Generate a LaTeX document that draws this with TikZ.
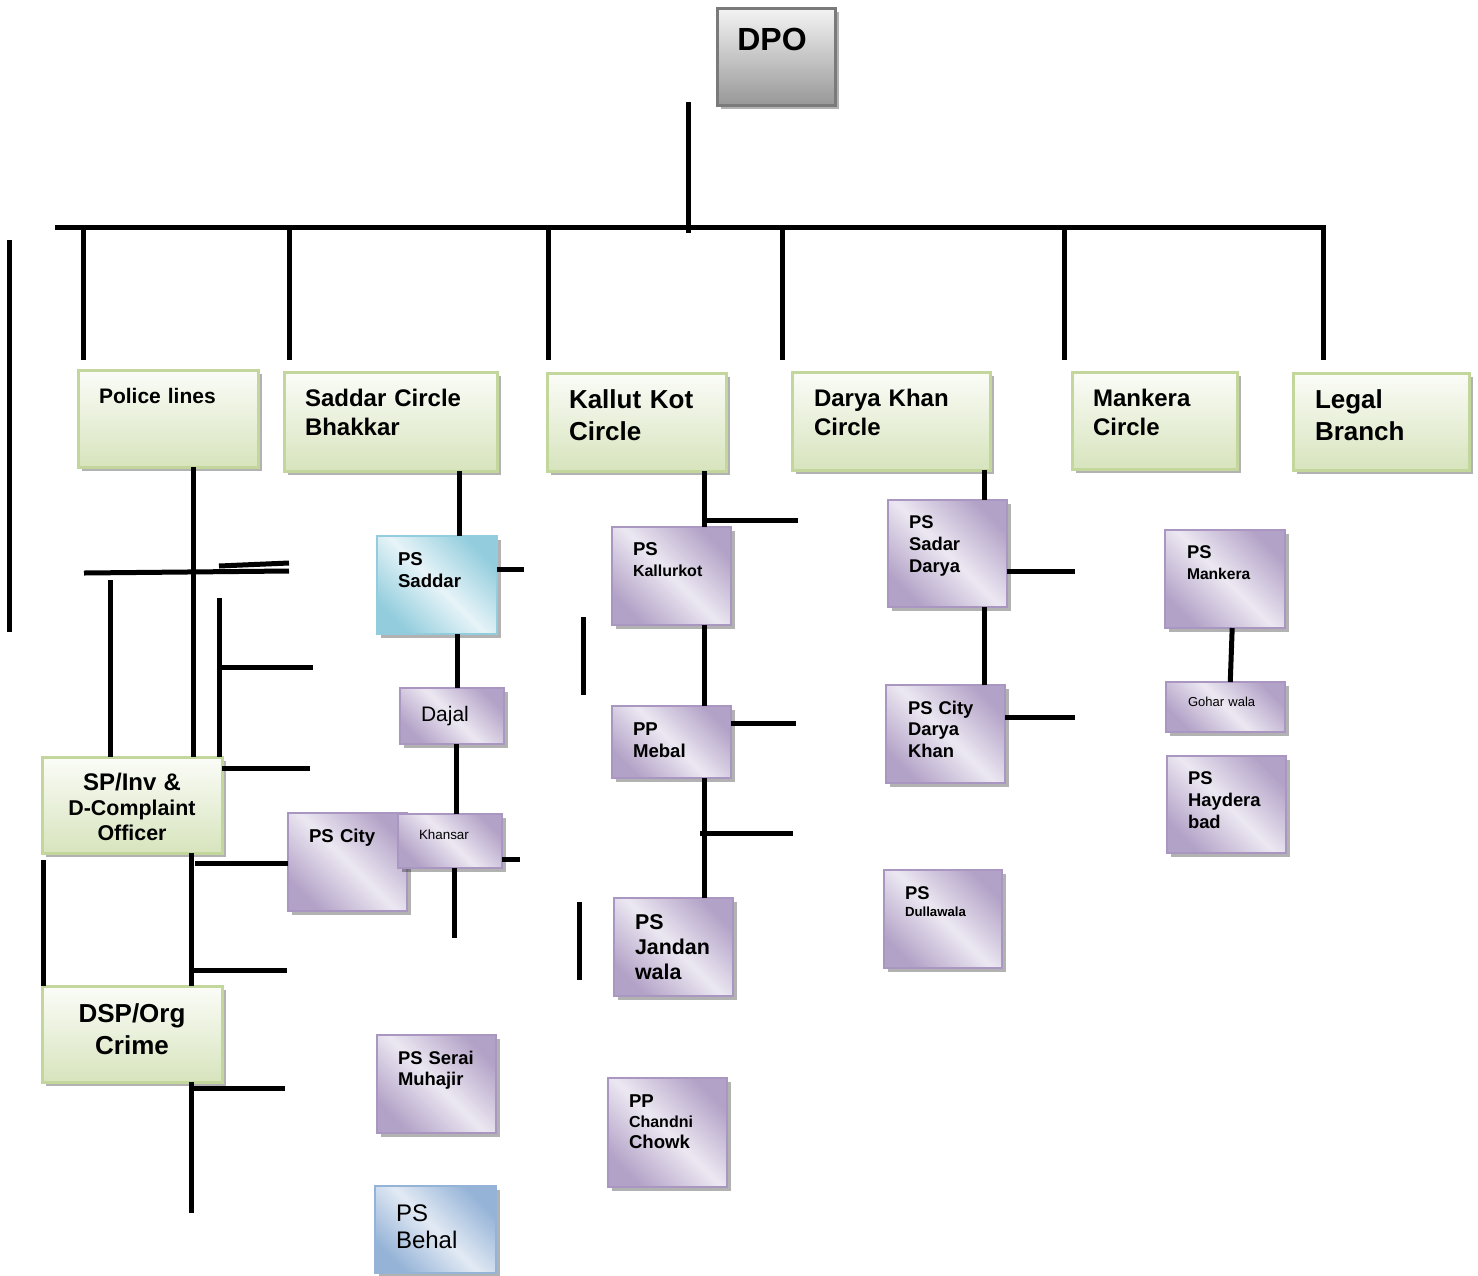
\documentclass[tikz,border=0pt]{standalone}
\usepackage{fontspec}
\setmainfont{Liberation Sans}
\usetikzlibrary{shadows,fit,calc}
\definecolor{gdark}{HTML}{D7E4BD}
\definecolor{glight}{HTML}{FBFCF8}
\definecolor{gborder}{HTML}{C3D69B}
\definecolor{pdark}{HTML}{B3A2C7}
\definecolor{plight}{HTML}{ECE8F2}
\definecolor{pborder}{HTML}{A997C2}
\definecolor{cdark}{HTML}{93CDDD}
\definecolor{clight}{HTML}{E7F4F8}
\definecolor{bdark}{HTML}{95B3D7}
\definecolor{blight}{HTML}{E2EAF4}
\definecolor{graytop}{HTML}{F4F4F4}
\definecolor{graybot}{HTML}{989898}
\definecolor{grayborder}{HTML}{7A7A7A}
\tikzset{
  boxbase/.style={inner sep=0pt, outer sep=0pt,
    drop shadow={shadow xshift=2pt, shadow yshift=-2pt, fill=black, opacity=0.3}},
  greenbox/.style={boxbase, draw=gborder, line width=1.5pt, top color=glight, bottom color=gdark},
  graybox/.style={boxbase, draw=grayborder, line width=1.5pt, top color=graytop, bottom color=graybot},
  purplebox/.style={boxbase, draw=pborder, line width=1.2pt, top color=pdark, bottom color=pdark, middle color=plight, shading angle=-45},
  cyanbox/.style={boxbase, draw=cdark, line width=1.2pt, top color=cdark, bottom color=cdark, middle color=clight, shading angle=-45},
  bluebox/.style={boxbase, draw=bdark, line width=1.2pt, top color=bdark, bottom color=bdark, middle color=blight, shading angle=-45},
  conn/.style={line width=2.5pt, black},
  lt/.style={inner sep=0pt, outer sep=0pt, anchor=base west, text width=110pt, align=left},
  ct/.style={inner sep=0pt, outer sep=0pt, anchor=base, text width=90pt, align=center},
}
\newcommand\fsz[2]{\fontsize{#1}{#2}\selectfont}
\begin{document}
\begin{tikzpicture}[x=0.5pt,y=-0.5pt]
\useasboundingbox (0,0) rectangle (1478,1275);
% ---------- boxes ----------
\node[graybox, fit={(717,8) (835,105)}] (dpo) {};
\node[greenbox, fit={(78,370) (258,467)}] (pl) {};
\node[greenbox, fit={(284,372) (497,471)}] (sc) {};
\node[greenbox, fit={(547,373) (726,471)}] (kk) {};
\node[greenbox, fit={(792,372) (990,470)}] (dk) {};
\node[greenbox, fit={(1072,372) (1237,469)}] (mc) {};
\node[greenbox, fit={(1293,373) (1469,470)}] (lb) {};
\node[greenbox, fit={(42,757) (222,853)}] (sp) {};
\node[greenbox, fit={(42,986) (222,1082)}] (dsp) {};
\node[cyanbox, fit={(377,536) (497,634)}] (pss) {};
\node[purplebox, fit={(400,688) (504,744)}] (dajal) {};
\node[purplebox, fit={(288,813) (407,911)}] (psc) {};
\node[purplebox, fit={(398,814) (502,868)}] (khan) {};
\node[purplebox, fit={(612,527) (731,625)}] (pskk) {};
\node[purplebox, fit={(612,706) (731,778)}] (ppm) {};
\node[purplebox, fit={(614,898) (733,996)}] (psj) {};
\node[purplebox, fit={(608,1078) (727,1187)}] (ppc) {};
\node[purplebox, fit={(888,500) (1007,607)}] (pssd) {};
\node[purplebox, fit={(886,685) (1005,783)}] (pscd) {};
\node[purplebox, fit={(884,870) (1002,968)}] (psdw) {};
\node[purplebox, fit={(1165,530) (1285,628)}] (psm) {};
\node[purplebox, fit={(1166,682) (1285,732)}] (gw) {};
\node[purplebox, fit={(1167,756) (1286,853)}] (psh) {};
\node[purplebox, fit={(377,1035) (496,1133)}] (pssm) {};
\node[bluebox, fit={(375,1186) (496,1273)}] (psb) {};
% ---------- texts ----------
\node[ct, font=\bfseries\fsz{16}{19}] (tdpo) at (772,50) {DPO};
\node[lt, font=\bfseries\fsz{10.5}{13}] (tpl) at (99,403) {Police lines};
\node[lt, font=\bfseries\fsz{12}{14.5}] (tsc) at (305,406) {Saddar Circle\\Bhakkar};
\node[lt, font=\bfseries\fsz{13}{16}] (tkk) at (569,408) {Kallut Kot\\Circle};
\node[lt, font=\bfseries\fsz{12}{14.5}] (tdk) at (814,406) {Darya Khan\\Circle};
\node[lt, font=\bfseries\fsz{12}{14.5}] (tmc) at (1093,406) {Mankera\\Circle};
\node[lt, font=\bfseries\fsz{13}{16}] (tlb) at (1315,408) {Legal\\Branch};
\node[ct, font=\bfseries\fsz{10.7}{12.5}] (tsp) at (132,790) {{\fsz{12}{12.5}SP/Inv \&}\\D-Complaint\\Officer};
\node[ct, font=\bfseries\fsz{13}{16}] (tdsp) at (132,1022) {DSP/Org\\Crime};
\node[lt, font=\bfseries\fsz{9.3}{11}] (tpss) at (398,565) {PS\\Saddar};
\node[lt, font=\fsz{10.5}{12}] (tdajal) at (421,721) {Dajal};
\node[lt, font=\bfseries\fsz{9.3}{11}] (tpsc) at (309,842) {PS City};
\node[lt, font=\fsz{6.7}{8}] (tkhan) at (419,839) {Khansar};
\node[lt, font=\bfseries\fsz{9.3}{10.5}] (tpskk) at (633,555) {PS\\{\fsz{8}{10.5}Kallurkot}};
\node[lt, font=\bfseries\fsz{9.3}{11}] (tppm) at (633,735) {PP\\Mebal};
\node[lt, font=\bfseries\fsz{10.7}{12.5}] (tpsj) at (635,929) {PS\\Jandan\\wala};
\node[lt, font=\bfseries\fsz{9.3}{10.25}] (tppc) at (629,1107) {PP\\{\fsz{8}{10.25}Chandni}\\Chowk};
\node[lt, font=\bfseries\fsz{9.2}{11}] (tpssd) at (909,528) {PS\\Sadar\\Darya};
\node[lt, font=\bfseries\fsz{9.2}{10.8}] (tpscd) at (908,714) {PS City\\Darya\\Khan};
\node[lt, font=\bfseries\fsz{9.2}{8.5}] (tpsdw) at (905,899) {PS\\{\fsz{6.6}{8.5}Dullawala}};
\node[lt, font=\bfseries\fsz{9.2}{10.5}] (tpsm) at (1187,558) {PS\\{\fsz{7.8}{10.5}Mankera}};
\node[lt, font=\fsz{6.5}{8}] (tgw) at (1188,706) {Gohar wala};
\node[lt, font=\bfseries\fsz{9.2}{11}] (tpsh) at (1188,784) {PS\\Haydera\\bad};
\node[lt, font=\bfseries\fsz{9.2}{10.5}] (tpssm) at (398,1064) {PS Serai\\Muhajir};
\node[lt, font=\fsz{12}{13.5}] (tpsb) at (396,1221) {PS\\Behal};
% ---------- free coordinates ----------
\coordinate (stemT) at (688,102);  \coordinate (stemB) at (688,233);
\coordinate (busL) at (55,227);    \coordinate (busR) at (1323,227);
\coordinate (lbEnd) at (1323,360);
\foreach \x/\n in {83/a,289/b,548/c,782/d,1064/e}{
  \coordinate (drop\n T) at (\x,227); \coordinate (drop\n B) at (\x,360);}
\coordinate (farT) at (9,240);     \coordinate (farB) at (9,632);
\coordinate (xpl) at (193,0);      \coordinate (xlow) at (191,0);
\coordinate (lowEnd) at (191,1213);
\coordinate (h1L) at (84,573);     \coordinate (h1R) at (289,571);
\coordinate (h2L) at (219,566);    \coordinate (h2R) at (289,563);
\coordinate (v1T) at (110,580);
\coordinate (v2T) at (219,598);
\coordinate (h3L) at (219,667);    \coordinate (h3R) at (313,667);
\coordinate (h4R) at (310,768);
\coordinate (v3T) at (43,860);
\coordinate (h5L) at (195,863);
\coordinate (h6L) at (191,970);    \coordinate (h6R) at (287,970);
\coordinate (h7L) at (191,1088);   \coordinate (h7R) at (285,1088);
\coordinate (xsc) at (459,0);      \coordinate (xss) at (457,0);
\coordinate (xdj) at (456,0);      \coordinate (xkh) at (454,0);
\coordinate (khEnd) at (454,938);
\coordinate (pssR) at (524,569);   \coordinate (khR) at (520,859);
\coordinate (xkk) at (704,0);
\coordinate (k1L) at (704,520);    \coordinate (k1R) at (798,520);
\coordinate (k2R) at (796,723);
\coordinate (k3L) at (700,833);    \coordinate (k3R) at (793,833);
\coordinate (f1T) at (583,617);    \coordinate (f1B) at (583,695);
\coordinate (f2T) at (579,902);    \coordinate (f2B) at (579,980);
\coordinate (xdk) at (984,0);
\coordinate (d1R) at (1075,571);   \coordinate (d2R) at (1075,717);
% ---------- connectors ----------
\draw[conn] (stemT) -- (stemB);
\draw[conn] (busL) -- (busR) -- (lbEnd);
\foreach \n in {a,b,c,d,e}{ \draw[conn] (drop\n T) -- (drop\n B); }
\draw[conn] (farT) -- (farB);
\draw[conn] (pl.south -| xpl) -- (sp.north -| xpl);
\draw[conn] (sp.south -| xlow) -- (dsp.north -| xlow);
\draw[conn] (dsp.south -| xlow) -- (lowEnd);
\draw[conn] (h1L) -- (h1R);
\draw[conn] (h2L) -- (h2R);
\draw[conn] (v1T) -- (sp.north -| v1T);
\draw[conn] (v2T) -- (sp.north -| v2T);
\draw[conn] (h3L) -- (h3R);
\draw[conn] (sp.east |- h4R) -- (h4R);
\draw[conn] (v3T) -- (dsp.north -| v3T);
\draw[conn] (h5L) -- (psc.west |- h5L);
\draw[conn] (h6L) -- (h6R);
\draw[conn] (h7L) -- (h7R);
\draw[conn] (sc.south -| xsc) -- (pss.north -| xsc);
\draw[conn] (pss.east |- pssR) -- (pssR);
\draw[conn] (pss.south -| xss) -- (dajal.north -| xss);
\draw[conn] (dajal.south -| xdj) -- (khan.north -| xdj);
\draw[conn] (khan.south -| xkh) -- (khEnd);
\draw[conn] (khan.east |- khR) -- (khR);
\draw[conn] (kk.south -| xkk) -- (pskk.north -| xkk);
\draw[conn] (k1L) -- (k1R);
\draw[conn] (pskk.south -| xkk) -- (ppm.north -| xkk);
\draw[conn] (ppm.east |- k2R) -- (k2R);
\draw[conn] (ppm.south -| xkk) -- (psj.north -| xkk);
\draw[conn] (k3L) -- (k3R);
\draw[conn] (f1T) -- (f1B);
\draw[conn] (f2T) -- (f2B);
\draw[conn] (dk.south -| xdk) -- (pssd.north -| xdk);
\draw[conn] (pssd.east |- d1R) -- (d1R);
\draw[conn] (pssd.south -| xdk) -- (pscd.north -| xdk);
\draw[conn] (pscd.east |- d2R) -- (d2R);
\draw[conn] ($(psm.south west)!0.56!(psm.south east)$) -- ($(gw.north west)!0.54!(gw.north east)$);
\end{tikzpicture}
\end{document}
